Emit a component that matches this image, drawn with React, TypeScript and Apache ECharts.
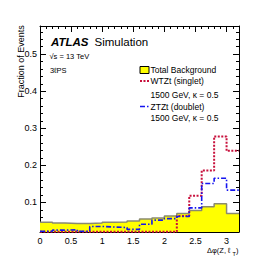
import React, { useEffect, useRef } from "react";
import * as echarts from "echarts";

// Histogram bin edges (Δφ), 16 bins
const binEdges = [0, 0.2, 0.4, 0.6, 0.8, 1.0, 1.2, 1.4, 1.6, 1.8, 2.0, 2.2, 2.4, 2.6, 2.8, 3.0, 3.2];

// Fraction of events per bin
const totalBackground = [0.046, 0.044, 0.043, 0.043, 0.044, 0.046, 0.047, 0.05, 0.055, 0.058, 0.063, 0.07, 0.078, 0.088, 0.096, 0.07];
const wtztSinglet = [0.021, 0.021, 0.021, 0.021, 0.021, 0.021, 0.021, 0.021, 0.021, 0.021, 0.021, 0.063, 0.118, 0.186, 0.278, 0.239];
const ztztDoublet = [0.022, 0.025, 0.026, 0.022, 0.035, 0.0335, 0.032, 0.027, 0.041, 0.052, 0.056, 0.062, 0.085, 0.151, 0.165, 0.133];

const xTickLabels = ["0", "0.5", "1", "1.5", "2", "2.5", "3"];
const yTickLabels = ["0.1", "0.2", "0.3", "0.4", "0.5"];

const FONT = "'Liberation Sans', Arial, Helvetica, sans-serif";
const RED = "#c8103c";
const BLUE = "#1414f0";

function stepPoints(values: number[]) {
  const pts: number[][] = values.map((v, i) => [binEdges[i], v]);
  pts.push([binEdges[values.length], values[values.length - 1]]);
  return pts;
}

const X_MIN = 0;
const X_MAX = 3.2;
const Y_MIN = 0.02;
const Y_MAX = 0.576;

function fmtX(v: number) {
  const s = String(Math.round(v * 10) / 10);
  return xTickLabels.includes(s) ? s : "";
}
function fmtY(v: number) {
  const s = (Math.round(v * 10) / 10).toFixed(1);
  return Math.abs(v - Math.round(v * 10) / 10) < 1e-6 && yTickLabels.includes(s) ? s : "";
}

export default function App() {
  const ref = useRef<HTMLDivElement>(null);
  useEffect(() => {
    if (!ref.current) return;
    const chart = echarts.init(ref.current, undefined, { renderer: "svg" });
    const blackLine = { color: "#000", width: 1 };
    const baseX = { type: "value", min: X_MIN, max: X_MAX, splitLine: { show: false } } as any;
    const baseY = { type: "value", min: Y_MIN, max: Y_MAX, splitLine: { show: false } } as any;
    const txt = (text: string, x: number, y: number, fontSize: number, extra: any = {}) => ({
      type: "text",
      x,
      y,
      style: { text, fontSize, fontFamily: FONT, fill: "#000", verticalAlign: "middle", ...extra },
    });
    chart.setOption({
      animation: false,
      backgroundColor: "#fff",
      textStyle: { fontFamily: FONT },
      grid: { left: 40, right: 27, top: 26, bottom: 27, containLabel: false },
      xAxis: [
        {
          ...baseX,
          position: "bottom",
          interval: 0.5,
          axisLine: { show: true, onZero: false, lineStyle: blackLine },
          axisTick: { show: true, inside: true, length: 6, lineStyle: blackLine },
          axisLabel: { show: true, formatter: fmtX, fontSize: 9, color: "#000", margin: 4, fontFamily: FONT, showMaxLabel: false },
        },
        {
          ...baseX,
          position: "bottom",
          interval: 0.1,
          axisLine: { show: false, onZero: false },
          axisTick: { show: true, inside: true, length: 3, lineStyle: blackLine },
          axisLabel: { show: false },
        },
        {
          ...baseX,
          position: "top",
          interval: 0.5,
          axisLine: { show: true, onZero: false, lineStyle: blackLine },
          axisTick: { show: true, inside: true, length: 6, lineStyle: blackLine },
          axisLabel: { show: false },
        },
        {
          ...baseX,
          position: "top",
          interval: 0.1,
          axisLine: { show: false, onZero: false },
          axisTick: { show: true, inside: true, length: 3, lineStyle: blackLine },
          axisLabel: { show: false },
        },
      ],
      yAxis: [
        {
          ...baseY,
          position: "left",
          splitNumber: 5,
          axisLine: { show: true, onZero: false, lineStyle: blackLine },
          axisTick: { show: true, inside: true, length: 6, lineStyle: blackLine },
          axisLabel: { show: true, formatter: fmtY, fontSize: 9, color: "#000", margin: 3, fontFamily: FONT, showMinLabel: false, showMaxLabel: false },
        },
        {
          ...baseY,
          position: "left",
          interval: 0.02,
          axisLine: { show: false, onZero: false },
          axisTick: { show: true, inside: true, length: 3, lineStyle: blackLine },
          axisLabel: { show: false },
        },
        {
          ...baseY,
          position: "right",
          splitNumber: 5,
          axisLine: { show: true, onZero: false, lineStyle: blackLine },
          axisTick: { show: true, inside: true, length: 6, lineStyle: blackLine },
          axisLabel: { show: false },
        },
        {
          ...baseY,
          position: "right",
          interval: 0.02,
          axisLine: { show: false, onZero: false },
          axisTick: { show: true, inside: true, length: 3, lineStyle: blackLine },
          axisLabel: { show: false },
        },
      ],
      series: [
        {
          name: "Total Background",
          type: "line",
          step: "end",
          xAxisIndex: 0,
          yAxisIndex: 0,
          data: stepPoints(totalBackground),
          symbol: "none",
          lineStyle: { color: "#8a8a70", width: 1.5 },
          areaStyle: { color: "#ffff00", opacity: 1, origin: "start" },
          z: 2,
        },
        {
          name: "WTZt (singlet)",
          type: "line",
          step: "end",
          xAxisIndex: 0,
          yAxisIndex: 0,
          data: stepPoints(wtztSinglet),
          symbol: "none",
          lineStyle: { color: RED, width: 2, type: [2, 1.5] },
          z: 3,
        },
        {
          name: "ZTZt (doublet)",
          type: "line",
          step: "end",
          xAxisIndex: 0,
          yAxisIndex: 0,
          data: stepPoints(ztztDoublet),
          symbol: "none",
          lineStyle: { color: BLUE, width: 1.6, type: [5, 2, 1.5, 2] },
          z: 4,
        },
      ],
      graphic: [
        {
          type: "text",
          x: 20.5,
          y: 61.5,
          rotation: Math.PI / 2,
          style: { text: "Fraction of Events", fontSize: 9, fontFamily: FONT, fill: "#000", align: "center", verticalAlign: "middle" },
        },
        txt("Δφ(Z, ℓ", 207, 250, 7.5),
        txt("T", 232.5, 253.5, 5.5),
        txt(")", 236, 250, 7.5),
        txt("ATLAS", 51, 42, 11.5, { fontWeight: "bold", fontStyle: "italic" }),
        txt("Simulation", 94.5, 42, 11.5),
        txt("√s = 13 TeV", 49.5, 56, 7.5),
        txt("3ℓPS", 50, 70, 7.5),
        {
          type: "rect",
          shape: { x: 140, y: 66.5, width: 9, height: 7 },
          style: { fill: "#ffff00", stroke: "#000", lineWidth: 1 },
        },
        txt("Total Background", 150.5, 70, 8.5),
        {
          type: "line",
          shape: { x1: 140, y1: 81, x2: 149, y2: 81 },
          style: { stroke: RED, lineWidth: 2, lineDash: [2, 1.5] },
        },
        txt("WTZt (singlet)", 150.5, 81, 8.5),
        txt("1500 GeV, κ = 0.5", 150.5, 94.5, 8.5),
        {
          type: "line",
          shape: { x1: 140, y1: 106.5, x2: 149, y2: 106.5 },
          style: { stroke: BLUE, lineWidth: 1.6, lineDash: [5, 2, 1.5, 2] },
        },
        txt("ZTZt (doublet)", 150.5, 106.5, 8.5),
        txt("1500 GeV, κ = 0.5", 150.5, 118, 8.5),
      ],
    });
    return () => chart.dispose();
  }, []);
  return (
    <div
      ref={ref}
      style={{ position: "fixed", left: 0, top: 0, width: 266, height: 259, background: "#fff" }}
    />
  );
}
